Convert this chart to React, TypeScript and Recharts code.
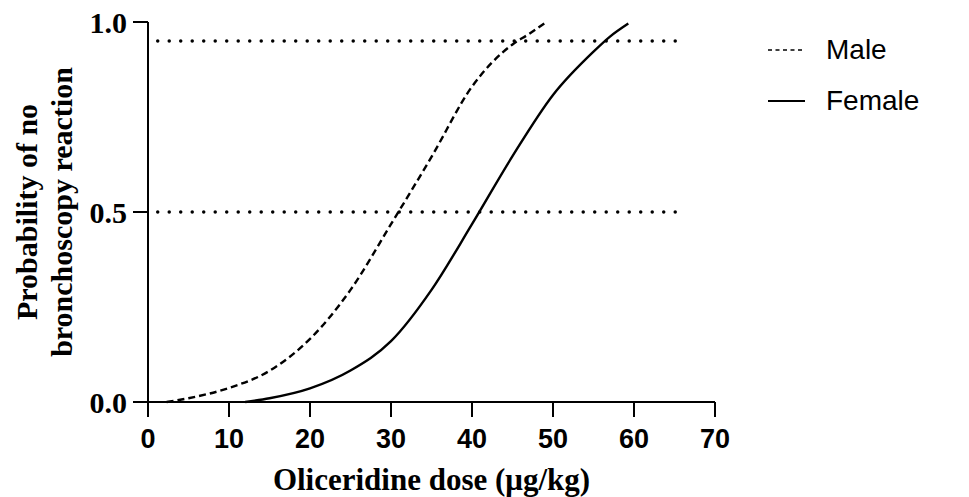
import { Legend, Line, LineChart, ReferenceLine, XAxis, YAxis } from "recharts";

const ink = "#000";
const serif = "'Liberation Serif', 'Times New Roman', serif";
const sans = "'Liberation Sans', Arial, sans-serif";

type Point = { dose: number; p: number };

// probability, by dose (µg/kg)
const maleDose = [2.3, 5, 10, 15, 20, 25, 30, 35, 40, 45, 47, 49];
const maleProb = [0, 0.01, 0.037, 0.082, 0.166, 0.295, 0.468, 0.645, 0.83, 0.941, 0.968, 0.997];
const femaleDose = [12, 15, 20, 25, 30, 35, 40, 45, 50, 55, 57, 59.3];
const femaleProb = [0, 0.01, 0.036, 0.083, 0.16, 0.295, 0.468, 0.647, 0.808, 0.922, 0.961, 0.996];

const groups = ["Male", "Female"];
const cutoffs = [0.5, 0.95];
const cutoffSpan = [1.2, 66];
const xTicks = [0, 10, 20, 30, 40, 50, 60, 70];
const yTicks = [0, 0.5, 1];

const zip = (xs: number[], ys: number[]): Point[] => xs.map((dose, i) => ({ dose, p: ys[i] }));
const male = zip(maleDose, maleProb);
const female = zip(femaleDose, femaleProb);

const dashOf: Record<string, string | undefined> = { Male: "4 3.5", Female: undefined };

function LegendBox({ payload }: any) {
  const names: string[] = (payload || []).map((e: any) => e.value);
  const ordered = groups.filter((g) => names.includes(g));
  return (
    <div>
      {ordered.map((name) => (
        <div key={name} style={{ display: "flex", alignItems: "center", height: 51 }}>
          <svg width={48} height={10}>
            <line x1={2} y1={5} x2={39} y2={5} stroke={ink} strokeWidth={name === "Male" ? 1.6 : 2} strokeDasharray={dashOf[name]} />
          </svg>
          <span style={{ fontFamily: sans, fontSize: 28, color: ink, marginLeft: 12 }}>{name}</span>
        </div>
      ))}
    </div>
  );
}

function YTitle({ viewBox }: any) {
  const cy = viewBox.y + viewBox.height / 2;
  const style = { fontFamily: serif, fontWeight: 700, fontSize: 30, fill: ink };
  return (
    <g>
      <text x={37} y={cy} transform={`rotate(-90 37 ${cy})`} textAnchor="middle" style={style}>
        Probability of no
      </text>
      <text x={72} y={cy} transform={`rotate(-90 72 ${cy})`} textAnchor="middle" style={style}>
        bronchoscopy reaction
      </text>
    </g>
  );
}

function XTitle({ viewBox }: any) {
  return (
    <text
      x={viewBox.x + viewBox.width / 2}
      y={viewBox.y + 88}
      textAnchor="middle"
      style={{ fontFamily: serif, fontWeight: 700, fontSize: 31, fill: ink }}
    >
      Oliceridine dose (μg/kg)
    </text>
  );
}

export default function App() {
  return (
    <div style={{ position: "absolute", left: 0, top: 0, background: "#fff" }}>
      <LineChart width={969} height={497} margin={{ top: 22, right: 254, left: 0, bottom: 0 }}>
        <XAxis
          dataKey="dose"
          type="number"
          domain={[0, 70]}
          ticks={xTicks}
          allowDataOverflow
          height={95}
          tickSize={15}
          tickMargin={12}
          axisLine={{ stroke: ink, strokeWidth: 2 }}
          tickLine={{ stroke: ink, strokeWidth: 2 }}
          tick={{ fontFamily: sans, fontWeight: 700, fontSize: 27, fill: ink }}
          label={<XTitle />}
        />
        <YAxis
          type="number"
          domain={[0, 1]}
          ticks={yTicks}
          width={148}
          tickSize={15}
          tickMargin={6}
          tickFormatter={(v: number) => v.toFixed(1)}
          axisLine={{ stroke: ink, strokeWidth: 2 }}
          tickLine={{ stroke: ink, strokeWidth: 2 }}
          tick={{ fontFamily: serif, fontWeight: 700, fontSize: 30, fill: ink }}
          label={<YTitle />}
        />
        {cutoffs.map((c) => (
          <ReferenceLine
            key={c}
            segment={[
              { x: cutoffSpan[0], y: c },
              { x: cutoffSpan[1], y: c },
            ]}
            stroke={ink}
            strokeWidth={3.5}
            strokeDasharray="0 11.5"
            strokeLinecap="round"
          />
        ))}
        <Line
          data={male}
          dataKey="p"
          name="Male"
          type="monotone"
          stroke={ink}
          strokeWidth={2.4}
          strokeDasharray="7 4"
          dot={false}
          isAnimationActive={false}
        />
        <Line
          data={female}
          dataKey="p"
          name="Female"
          type="monotone"
          stroke={ink}
          strokeWidth={2.4}
          dot={false}
          isAnimationActive={false}
        />
        <Legend
          content={<LegendBox />}
          layout="horizontal"
          verticalAlign="middle"
          align="center"
          wrapperStyle={{ position: "absolute", left: 766, top: 24, width: 200 }}
        />
      </LineChart>
    </div>
  );
}
